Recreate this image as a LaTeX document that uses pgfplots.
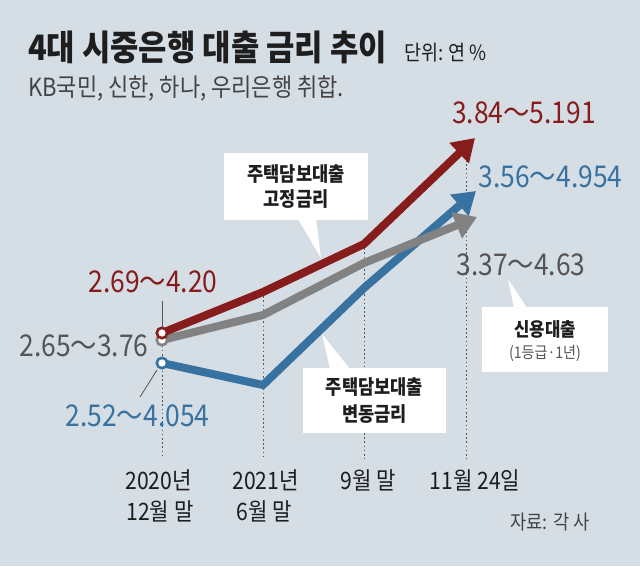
\documentclass[border=0pt]{standalone}
\usepackage{fontspec}
\setmainfont{Noto Sans CJK KR}[FakeStretch=0.88]
\usepackage{pgfplots}
\pgfplotsset{compat=1.18}
\usetikzlibrary{arrows.meta}
\definecolor{bgc}{RGB}{213,221,229}
\definecolor{cred}{RGB}{135,28,28}
\definecolor{cblue}{RGB}{55,114,160}
\definecolor{cgray}{RGB}{130,130,130}
\definecolor{tgray}{RGB}{85,85,85}
\definecolor{ink}{RGB}{30,30,30}
\newcommand\fs[1]{\fontsize{#1bp}{#1bp}\selectfont}
\tikzset{
  guide/.style={draw=ink!75, line width=0.9bp, dash pattern=on 1.6bp off 2.6bp},
  serie/.style={line width=8bp, line join=miter, -{Triangle[length=22bp,width=27bp]}},
}
\begin{document}
\begin{tikzpicture}
\begin{axis}[
  width=640bp, height=566bp, scale only axis,
  xmin=0, xmax=640, ymin=0, ymax=566, y dir=reverse,
  axis line style={draw=none}, xtick=\empty, ytick=\empty,
  axis background/.style={fill=bgc},
  clip=false,
]
% dotted guides
\addplot[guide] coordinates {(162,333) (162,459)};
\addplot[guide] coordinates {(263,292) (263,459)};
\addplot[guide] coordinates {(364,244) (364,459)};
\addplot[guide] coordinates {(466,160) (466,459)};
% callout lines
\addplot[draw=tgray, line width=0.8bp] coordinates {(162,301) (162,327)};
\addplot[draw=tgray, line width=0.8bp] coordinates {(157,370) (140,397)};
% series
\addplot[serie, draw=cblue] coordinates {(162,363) (263,385) (364,288) (476,191)};
\addplot[serie, draw=cgray] coordinates {(162,340) (263,315) (364,263) (477,217)};
\addplot[serie, draw=cred] coordinates {(162,333) (263,292) (364,244) (475,138)};
% start markers
\addplot[only marks, mark=*, mark size=5.2bp, mark options={fill=white, draw=cgray, line width=2.6bp}] coordinates {(162,340)};
\addplot[only marks, mark=*, mark size=5.2bp, mark options={fill=white, draw=cblue, line width=2.6bp}] coordinates {(162,363)};
\addplot[only marks, mark=*, mark size=5.2bp, mark options={fill=white, draw=cred, line width=2.6bp}] coordinates {(162,333)};
% callout boxes
\fill[white] (axis cs:224,153) rectangle (axis cs:368,220);
\fill[white] (axis cs:298,219) -- (axis cs:316,219) -- (axis cs:321,258) -- cycle;
\node[font=\fs{20}\bfseries, text=ink, anchor=center] at (axis cs:296,174) {주택담보대출};
\node[font=\fs{20}\bfseries, text=ink, anchor=center] at (axis cs:296,199) {고정금리};
\fill[white] (axis cs:303,368) rectangle (axis cs:446,433);
\fill[white] (axis cs:330,369) -- (axis cs:350,369) -- (axis cs:322,334) -- cycle;
\node[font=\fs{20}\bfseries, text=ink, anchor=center] at (axis cs:374.5,387.5) {주택담보대출};
\node[font=\fs{20}\bfseries, text=ink, anchor=center] at (axis cs:374.5,414) {변동금리};
\fill[white] (axis cs:482,307) rectangle (axis cs:608,372);
\fill[white] (axis cs:508,279) -- (axis cs:514,308) -- (axis cs:527,308) -- cycle;
\node[font=\fs{19}\bfseries, text=ink, anchor=center] at (axis cs:545,329) {신용대출};
\node[font=\fs{16}, text=tgray, anchor=center] at (axis cs:545,353) {(1등급·1년)};
% value labels
\node[font=\fs{30}, text=cred, anchor=base] at (axis cs:153,292) {2.69～4.20};
\node[font=\fs{30}, text=tgray, anchor=base] at (axis cs:84,356) {2.65～3.76};
\node[font=\fs{30}, text=cblue, anchor=base] at (axis cs:137.5,426) {2.52～4.054};
\node[font=\fs{30}, text=cred, anchor=base] at (axis cs:524,123) {3.84～5.191};
\node[font=\fs{30}, text=cblue, anchor=base] at (axis cs:550.5,187) {3.56～4.954};
\node[font=\fs{30}, text=tgray, anchor=base] at (axis cs:521,275) {3.37～4.63};
% category labels
\node[font=\fs{24}, text=ink, anchor=base] at (axis cs:158.5,489) {2020년};
\node[font=\fs{24}, text=ink, anchor=base] at (axis cs:160,520) {12월 말};
\node[font=\fs{24}, text=ink, anchor=base] at (axis cs:265.5,489) {2021년};
\node[font=\fs{24}, text=ink, anchor=base] at (axis cs:264,520) {6월 말};
\node[font=\fs{24}, text=ink, anchor=base] at (axis cs:368,489) {9월 말};
\node[font=\fs{24}, text=ink, anchor=base] at (axis cs:475,489) {11월 24일};
% titles
\node[font=\fs{35}\bfseries, text=ink, anchor=base west, inner sep=0pt] at (axis cs:28,61) {4대 시중은행 대출 금리 추이};
\node[font=\fs{21}, text=ink, anchor=base west, inner sep=0pt] at (axis cs:404,61) {단위: 연 \%};
\node[font=\fs{25}, text=tgray!80!black, anchor=base west, inner sep=0pt] at (axis cs:28,96) {KB국민, 신한, 하나, 우리은행 취합.};
\node[font=\fs{20}, text=tgray!80!black, anchor=base] at (axis cs:550,529) {자료: 각 사};
\end{axis}
\end{tikzpicture}
\end{document}
